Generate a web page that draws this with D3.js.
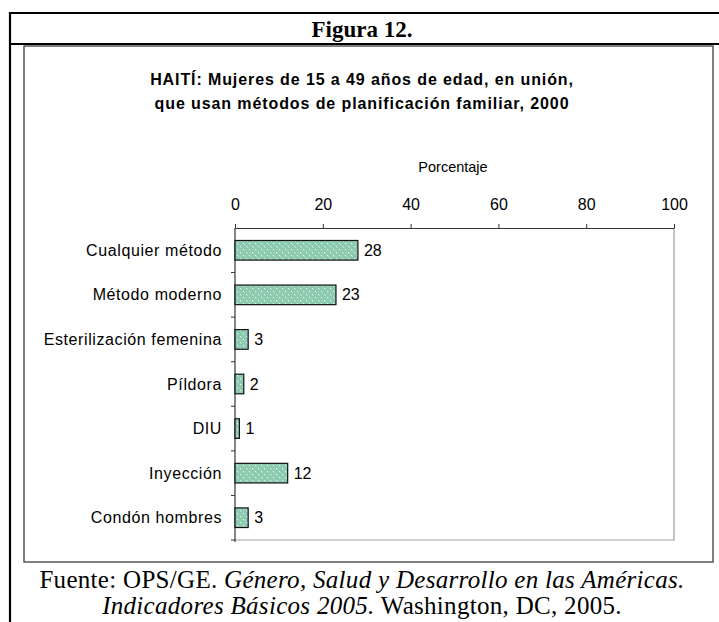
<html>
<head>
<script src="https://d3js.org/d3.v7.min.js"></script>
<style>
  body { margin: 0; background: #fff; }
  svg { display: block; }
</style>
</head>
<body>
<svg width="719" height="622"></svg>
<script>
// chart data
var categories = ["Cualquier método", "Método moderno", "Esterilización femenina", "Píldora", "DIU", "Inyección", "Condón hombres"];
var values = [28, 23, 3, 2, 1, 12, 3];
var xTicks = [0, 20, 40, 60, 80, 100];

var svg = d3.select("svg");
var sans = "Liberation Sans, Arial, sans-serif";
var serif = "Liberation Serif, Times New Roman, serif";

// frame of the figure
svg.append("path")
  .attr("d", "M10,622 V13 H719 M10,44 H719")
  .attr("fill", "none").attr("stroke", "#000").attr("stroke-width", 2.2);
svg.append("rect")
  .attr("x", 24).attr("y", 46).attr("width", 689).attr("height", 516)
  .attr("fill", "none").attr("stroke", "#555").attr("stroke-width", 1.5);

svg.append("text")
  .attr("x", 362).attr("y", 37)
  .attr("text-anchor", "middle")
  .style("font-family", serif)
  .style("font-weight", "bold").style("font-size", "23px")
  .text("Figura 12.");

var title = svg.append("text")
  .attr("text-anchor", "middle")
  .style("font-family", sans)
  .style("font-weight", "bold").style("font-size", "16px")
  .style("letter-spacing", "0.9px");
title.append("tspan").attr("x", 362).attr("y", 85).text("HAITÍ: Mujeres de 15 a 49 años de edad, en unión,");
title.append("tspan").attr("x", 362).attr("y", 109).text("que usan métodos de planificación familiar, 2000");

// fill pattern
var defs = svg.append("defs");
var pat = defs.append("pattern")
  .attr("id", "dots").attr("patternUnits", "userSpaceOnUse")
  .attr("width", 6).attr("height", 6);
pat.append("rect").attr("width", 6).attr("height", 6).attr("fill", "#8ccbb0");
pat.append("rect").attr("x", 0).attr("y", 0).attr("width", 1).attr("height", 1).attr("fill", "#eef8f3");
pat.append("rect").attr("x", 3).attr("y", 3).attr("width", 1).attr("height", 1).attr("fill", "#eef8f3");
pat.append("rect").attr("x", 1).attr("y", 1).attr("width", 1).attr("height", 1).attr("fill", "#b3dcca");
pat.append("rect").attr("x", 4).attr("y", 4).attr("width", 1).attr("height", 1).attr("fill", "#b3dcca");

var pLeft = 235, pTop = 228, pRight = 674, pBottom = 540;

var x = d3.scaleLinear().domain([0, 100]).range([pLeft, pRight]);
var y = d3.scaleBand().domain(categories).range([pTop, pBottom]).paddingInner(0.56).paddingOuter(0.28);
var yb = d3.scaleBand().domain(categories).range([pTop, pBottom]);

// plot area border (right and bottom)
svg.append("path")
  .attr("d", "M" + pRight + "," + pTop + " V" + pBottom + " H" + pLeft)
  .attr("fill", "none").attr("stroke", "#a0a0a0").attr("stroke-width", 1.2);

// top axis
var xaxis = svg.append("g")
  .attr("transform", "translate(0," + pTop + ")")
  .call(d3.axisTop(x).tickValues(xTicks).tickSize(4).tickPadding(14).tickSizeOuter(0));
xaxis.select(".domain").attr("stroke", "#333").attr("stroke-width", 1.2);
xaxis.selectAll(".tick line").attr("stroke", "#333");
xaxis.selectAll("text")
  .style("font-family", sans)
  .style("font-size", "16px").attr("fill", "#000");

svg.append("text")
  .attr("x", 453).attr("y", 172)
  .attr("text-anchor", "middle")
  .style("font-family", sans)
  .style("font-size", "14.5px")
  .text("Porcentaje");

// left axis
svg.append("line")
  .attr("x1", pLeft).attr("x2", pLeft).attr("y1", pTop).attr("y2", pBottom + 2)
  .attr("stroke", "#333").attr("stroke-width", 1.2);
svg.append("g").selectAll("line")
  .data(categories.slice(1).concat(["_end"]))
  .join("line")
  .attr("x1", pLeft - 4).attr("x2", pLeft)
  .attr("y1", function(d, i) { return i < categories.length - 1 ? yb(d) : pBottom; })
  .attr("y2", function(d, i) { return i < categories.length - 1 ? yb(d) : pBottom; })
  .attr("stroke", "#333");

svg.append("g").selectAll("text")
  .data(categories)
  .join("text")
  .attr("x", 222)
  .attr("y", function(d) { return yb(d) + yb.bandwidth() / 2; })
  .attr("dy", "0.35em")
  .attr("text-anchor", "end")
  .style("font-family", sans)
  .style("font-size", "16px")
  .style("letter-spacing", "0.6px")
  .text(function(d) { return d; });

// bars
svg.append("g").selectAll("rect")
  .data(values)
  .join("rect")
  .attr("x", x(0))
  .attr("y", function(d, i) { return y(categories[i]); })
  .attr("width", function(d) { return x(d) - x(0); })
  .attr("height", y.bandwidth())
  .attr("fill", "url(#dots)")
  .attr("stroke", "#111").attr("stroke-width", 1.2);

// value labels
svg.append("g").selectAll("text")
  .data(values)
  .join("text")
  .attr("x", function(d) { return x(d) + 6; })
  .attr("y", function(d, i) { return yb(categories[i]) + yb.bandwidth() / 2; })
  .attr("dy", "0.35em")
  .style("font-family", sans)
  .style("font-size", "16px")
  .text(function(d) { return d; });

// source note
var src = svg.append("text")
  .attr("text-anchor", "middle")
  .style("font-family", serif)
  .style("font-size", "25px")
  .style("letter-spacing", "0.3px");
var l1 = src.append("tspan").attr("x", 362).attr("y", 588);
l1.append("tspan").text("Fuente: OPS/GE. ");
l1.append("tspan").style("font-style", "italic").text("Género, Salud y Desarrollo en las Américas.");
var l2 = src.append("tspan").attr("x", 362).attr("y", 614);
l2.append("tspan").style("font-style", "italic").text("Indicadores Básicos 2005.");
l2.append("tspan").text(" Washington, DC, 2005.");
</script>
</body>
</html>
